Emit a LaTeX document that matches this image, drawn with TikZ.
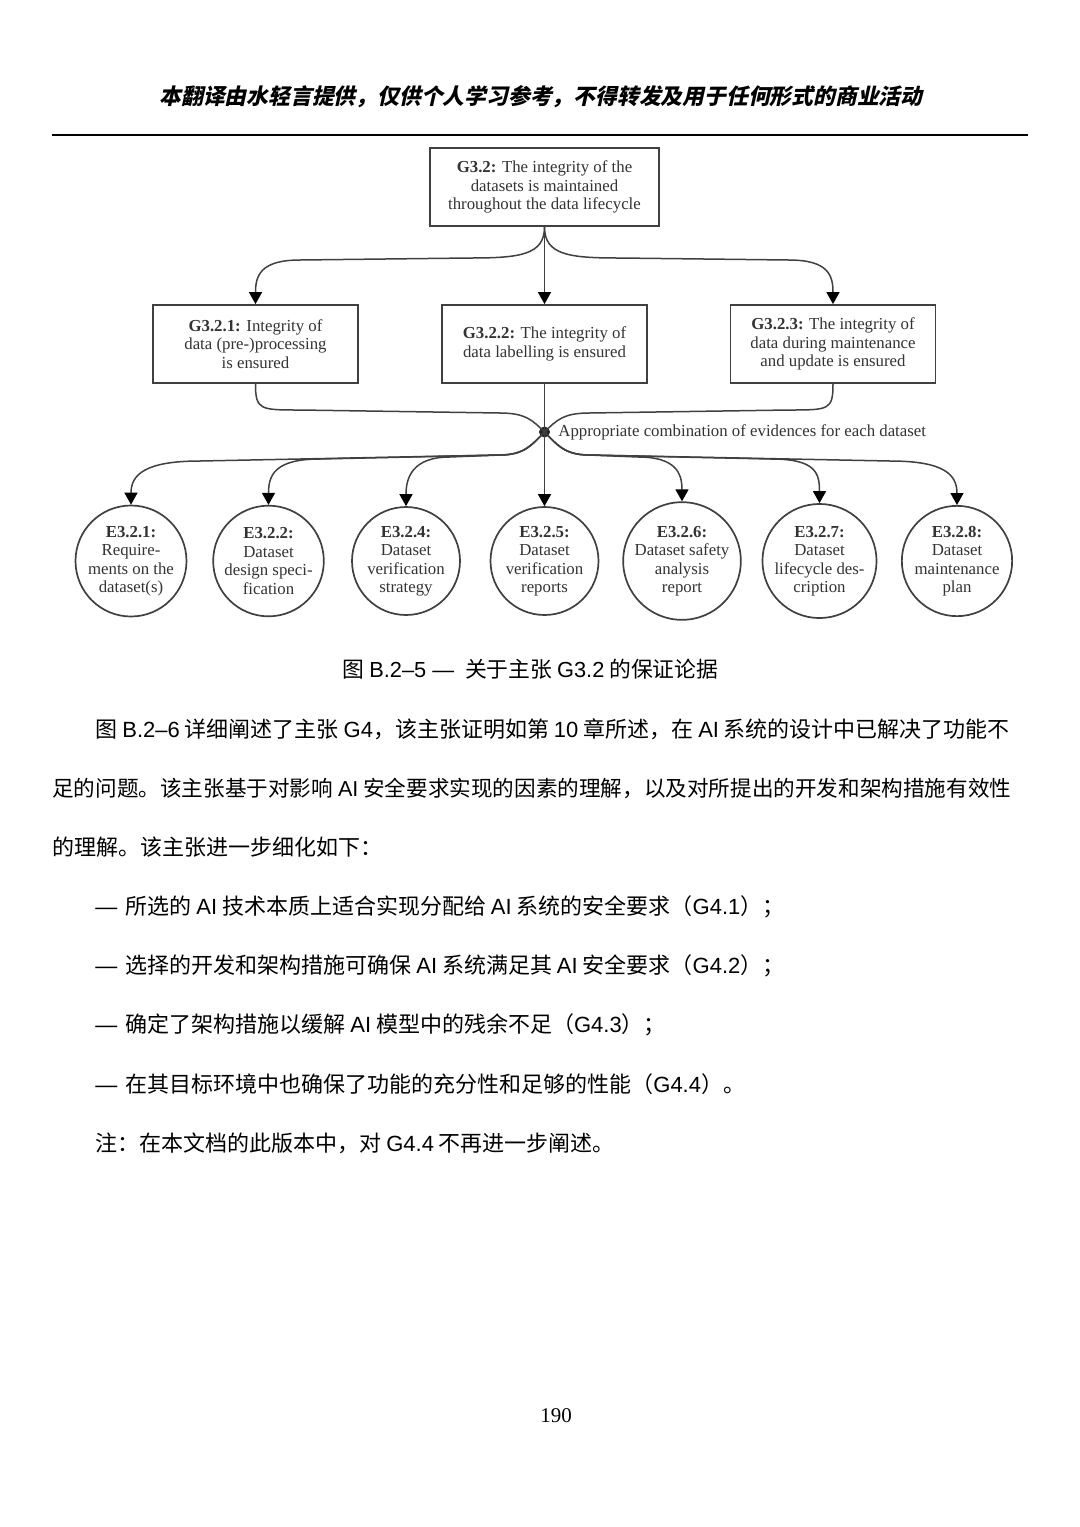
\documentclass[tikz,border=0pt]{standalone}
\usepackage{fontspec}
\setmainfont{Liberation Serif}
\newfontfamily\cjk{Noto Sans CJK SC}
\newfontfamily\cjkhead[FakeSlant=0.22]{Noto Sans CJK SC}
\newfontfamily\arial{Liberation Sans}
\newcommand{\latn}[1]{{\arial #1}}
\newcommand{\itemdash}{\latn{—}\hspace{4pt}}
\usetikzlibrary{arrows.meta}

\begin{document}
\begin{tikzpicture}[x=0.5pt, y=-0.5pt,
  goalbox/.style={draw=black!75, line width=0.9pt, minimum height=39pt, align=center,
    inner sep=1pt, text=black!80, font=\fontsize{8.4}{9.25}\selectfont},
  evid/.style={circle, draw=black!75, line width=0.85pt, minimum size=54pt, inner sep=0pt,
    align=center, text=black!80, font=\fontsize{8.4}{9.25}\selectfont},
  wire/.style={draw=black!75, line width=0.75pt},
  link/.style={wire, -{Triangle[width=6.5pt,length=6pt,fill=black,color=black]}},
  body/.style={anchor=west, inner sep=0pt, font=\cjk\fontsize{11}{13}\selectfont}]

\useasboundingbox (0,0) rectangle (1080,1527);
\fill[white] (0,0) rectangle (1080,1527); % page

% header
\node[inner sep=0pt, font=\cjkhead\bfseries\fontsize{10.9}{13}\selectfont] (head) at (541,97)
  {本翻译由水轻言提供，仅供个人学习参考，不得转发及用于任何形式的商业活动};
\draw[line width=1pt] (52,135) -- (1028,135);

% goals
\node[goalbox, minimum width=114.5pt] (g32) at (544.5,187)
  {\textbf{G3.2:} The integrity of the\\datasets is maintained\\throughout the data lifecycle};
\node[goalbox, minimum width=102.5pt] (g321) at (255.5,344)
  {\textbf{G3.2.1:} Integrity of\\data (pre-)processing\\is ensured};
\node[goalbox, minimum width=102.5pt] (g322) at (544.5,344)
  {\textbf{G3.2.2:} The integrity of\\data labelling is ensured};
\node[goalbox, minimum width=102.5pt] (g323) at (833,344)
  {\textbf{G3.2.3:} The integrity of\\data during maintenance\\and update is ensured};

% strategy dot
\node[circle, fill=black!85, inner sep=0pt, minimum size=5.5pt] (dot) at (544.5,432) {};
\node[anchor=west, inner sep=0pt, text=black!80, font=\fontsize{8.4}{9.25}\selectfont] (strat) at (558,432)
  {Appropriate combination of evidences for each dataset};

% evidences
\node[evid] (e321) at (131,561) {\textbf{E3.2.1:}\\Require-\\ments on the\\dataset(s)};
\node[evid] (e322) at (268.5,561) {\textbf{E3.2.2:}\\Dataset\\design speci-\\fication};
\node[evid] (e324) at (406,561) {\textbf{E3.2.4:}\\Dataset\\verification\\strategy};
\node[evid] (e325) at (544.5,561) {\textbf{E3.2.5:}\\Dataset\\verification\\reports};
\node[evid] (e326) at (682,561) {\textbf{E3.2.6:}\\Dataset safety\\analysis\\report};
\node[evid] (e327) at (819.5,561) {\textbf{E3.2.7:}\\Dataset\\lifecycle des-\\cription};
\node[evid] (e328) at (957,561) {\textbf{E3.2.8:}\\Dataset\\maintenance\\plan};

% goal to sub-goals
\draw[link] (g32.south) -- (g322.north);
\draw[link] (g32.south) .. controls +(0,28) and +(50,0) .. (470,258)
  -- (300,260) .. controls +(-40,0) and +(0,-28) .. (g321.north);
\draw[link] (g32.south) .. controls +(0,28) and +(-50,0) .. (619,258)
  -- (789,260) .. controls +(40,0) and +(0,-28) .. (g323.north);

% sub-goals to dot
\draw[wire] (g322.south) -- (dot.center);
\draw[wire] (g321.south) .. controls +(0,26) and +(-40,0) .. (300,410)
  -- (500,413) .. controls +(25,0) and +(-12,-12) .. (dot.center);
\draw[wire] (g323.south) .. controls +(0,26) and +(40,0) .. (789,410)
  -- (589,413) .. controls +(-25,0) and +(12,-12) .. (dot.center);

% dot to evidences
\draw[link] (dot.center) -- (e325.north);
\draw[link] (dot.center) .. controls +(-12,12) and +(25,0) .. (500,455)
  -- (200,461) .. controls +(-55,0) and +(0,-30) .. (e321.north);
\draw[link] (dot.center) .. controls +(-12,12) and +(25,0) .. (500,455)
  -- (320,459) .. controls +(-45,0) and +(0,-30) .. (e322.north);
\draw[link] (dot.center) .. controls +(-12,12) and +(25,0) .. (500,455)
  -- (450,457) .. controls +(-38,0) and +(0,-28) .. (e324.north);
\draw[link] (dot.center) .. controls +(12,12) and +(-25,0) .. (589,455)
  -- (638,457) .. controls +(38,0) and +(0,-28) .. (e326.north);
\draw[link] (dot.center) .. controls +(12,12) and +(-25,0) .. (589,455)
  -- (771,459) .. controls +(45,0) and +(0,-30) .. (e327.north);
\draw[link] (dot.center) .. controls +(12,12) and +(-25,0) .. (589,455)
  -- (890,461) .. controls +(55,0) and +(0,-30) .. (e328.north);

% caption
\node[inner sep=0pt, font=\cjk\fontsize{10.9}{13}\selectfont] (cap) at (530.5,669)
  {图 \latn{B.2–5 —}\hspace{3pt} 关于主张 \latn{G3.2} 的保证论据};

% body text
\node[body] (par1) at (95,729)
  {图 \latn{B.2–6} 详细阐述了主张 \latn{G4}，该主张证明如第 \latn{10} 章所述，在 \latn{AI} 系统的设计中已解决了功能不};
\node[body, font=\cjk\fontsize{10.8}{13}\selectfont] (par2) at (52,788)
  {足的问题。该主张基于对影响 \latn{AI} 安全要求实现的因素的理解，以及对所提出的开发和架构措施有效性};
\node[body] (par3) at (52,847) {的理解。该主张进一步细化如下：};
\node[body] (item1) at (95,907) {\itemdash 所选的 \latn{AI} 技术本质上适合实现分配给 \latn{AI} 系统的安全要求（\latn{G4.1}）；};
\node[body] (item2) at (95,966) {\itemdash 选择的开发和架构措施可确保 \latn{AI} 系统满足其 \latn{AI} 安全要求（\latn{G4.2}）；};
\node[body] (item3) at (95,1025) {\itemdash 确定了架构措施以缓解 \latn{AI} 模型中的残余不足（\latn{G4.3}）；};
\node[body] (item4) at (95,1084) {\itemdash 在其目标环境中也确保了功能的充分性和足够的性能（\latn{G4.4}）。};
\node[body] (note) at (95,1143) {注：在本文档的此版本中，对 \latn{G4.4} 不再进一步阐述。};

% page number
\node[inner sep=0pt, font=\fontsize{10.5}{12}\selectfont] (pnum) at (556,1416) {190};

\end{tikzpicture}
\end{document}
